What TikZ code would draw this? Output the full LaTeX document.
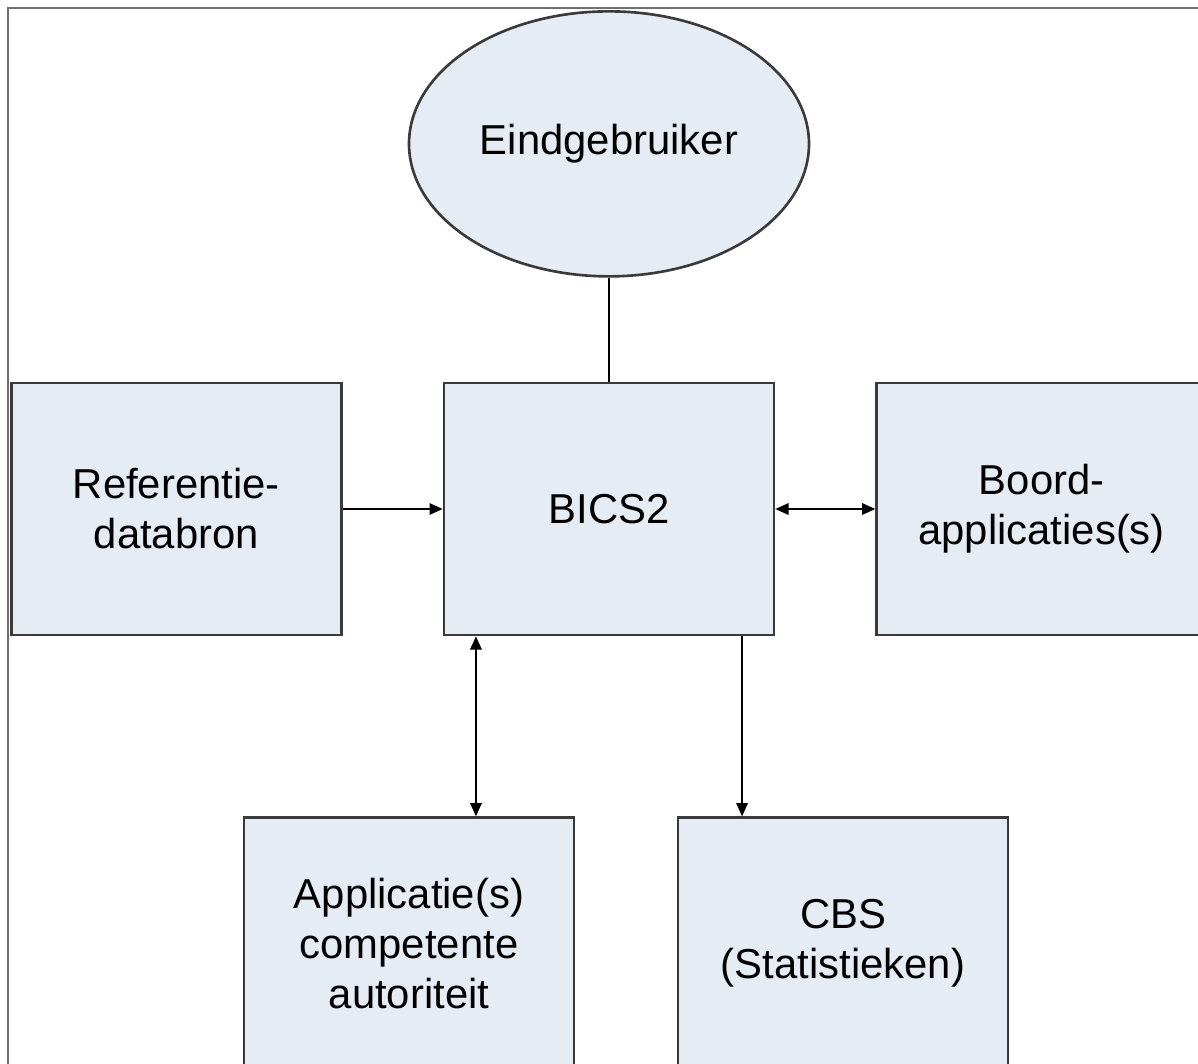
\documentclass[tikz,border=0pt]{standalone}
\usepackage{fontspec}
\setmainfont{Liberation Sans}
\usetikzlibrary{positioning,shapes.geometric,arrows.meta,calc}

\definecolor{boxfill}{HTML}{E6ECF4}
\definecolor{boxline}{HTML}{3A3A3A}
\definecolor{framegray}{HTML}{6E6E6E}

\tikzset{
  unit/.style={draw=boxline, fill=boxfill, line width=1.5pt, minimum width=6.6cm,
    minimum height=5.04cm, inner sep=0pt, align=center,
    font=\fontsize{23.8}{28.5}\selectfont},
  user/.style={unit, ellipse, minimum width=8cm, minimum height=5.3cm},
  link/.style={line width=1pt, black},
  >={Triangle[length=7.5pt,width=6.5pt]}
}

\begin{document}
\begin{tikzpicture}

\useasboundingbox (0,0) rectangle (23.96,-21.28);
\clip (0,0) rectangle (23.96,-21.28);
\draw[framegray, line width=1.2pt] (0.16,-22) -- (0.16,-0.16) -- (25,-0.16);

% Define nodes
\node[unit] (bics) at (12.18,-10.18) {BICS2};
\node[user, above=2.08cm of bics] (user) {Eindgebruiker};
\node[unit, left=2cm of bics] (ref) {Referentie-\\databron};
\node[unit, right=2cm of bics] (boord) {Boord-\\applicaties(s)};
\node[unit, below=3.6cm of bics, xshift=-4cm] (app) {Applicatie(s)\\competente\\autoriteit};
\node[unit, below=3.6cm of bics, xshift=4.68cm] (cbs) {CBS\\(Statistieken)};

% Connect the nodes
\draw[link] (user) -- (bics);
\draw[link, ->] (ref) -- (bics);
\draw[link, <->] (bics) -- (boord);
\coordinate (appjoin) at ($(bics.south west)!0.1!(bics.south east)$);
\coordinate (cbsjoin) at ($(bics.south west)!0.9!(bics.south east)$);
\draw[link, <->] (appjoin) -- (appjoin |- app.north);
\draw[link, ->] (cbsjoin) -- (cbsjoin |- cbs.north);

\end{tikzpicture}
\end{document}
